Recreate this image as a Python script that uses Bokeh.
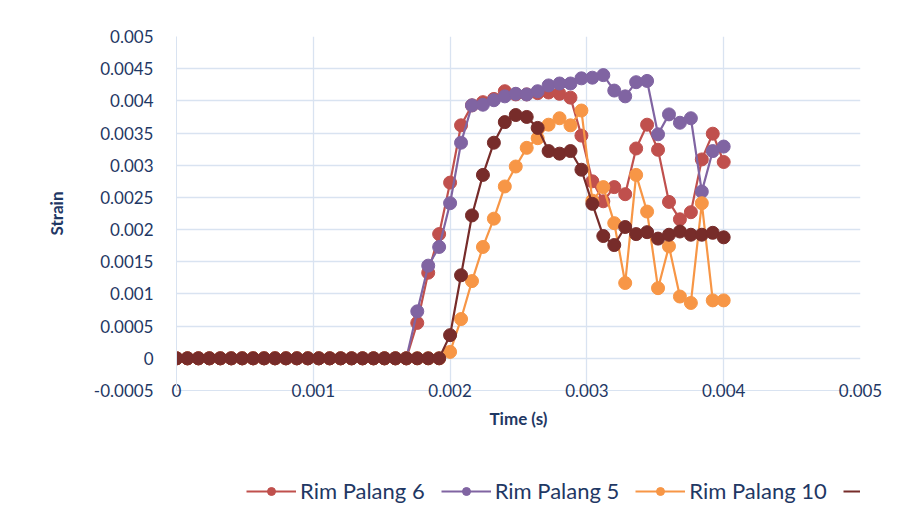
from bokeh.plotting import figure
from bokeh.models import Legend, LegendItem, FixedTicker
from bokeh.layouts import column
from bokeh.embed import file_html
from bokeh.resources import INLINE

# time step index 0..50, step 0.00008 s
n_points = 51
time_step = 0.00008
time_s = [round(i * time_step, 6) for i in range(n_points)]

rim_palang_6 = [0.0] * 22 + [
    0.00055, 0.00133, 0.00193, 0.00273, 0.00362, 0.00393, 0.00398, 0.00403,
    0.00415, 0.00410, 0.00410, 0.00412, 0.00413, 0.00411, 0.00405, 0.00346,
    0.00275, 0.00244, 0.00266, 0.00255, 0.00326, 0.00363, 0.00324, 0.00243,
    0.00216, 0.00227, 0.00309, 0.00349, 0.00305]

rim_palang_5 = [0.0] * 22 + [
    0.00073, 0.00144, 0.00173, 0.00241, 0.00335, 0.00393, 0.00394, 0.00401,
    0.00407, 0.00411, 0.00410, 0.00415, 0.00424, 0.00427, 0.00427, 0.00435,
    0.00436, 0.00440, 0.00416, 0.00407, 0.00429, 0.00431, 0.00348, 0.00379,
    0.00366, 0.00373, 0.00259, 0.00322, 0.00329]

rim_palang_10 = [0.0] * 25 + [
    0.00010, 0.00061, 0.00120, 0.00173, 0.00217, 0.00267, 0.00298, 0.00327,
    0.00342, 0.00363, 0.00373, 0.00362, 0.00385, 0.00245, 0.00266, 0.00210,
    0.00117, 0.00285, 0.00228, 0.00109, 0.00174, 0.00096, 0.00086, 0.00241,
    0.00090, 0.00090]

rim_palang_12 = [0.0] * 25 + [
    0.00036, 0.00129, 0.00222, 0.00285, 0.00335, 0.00367, 0.00378, 0.00375,
    0.00358, 0.00322, 0.00318, 0.00322, 0.00293, 0.00240, 0.00190, 0.00176,
    0.00204, 0.00193, 0.00196, 0.00186, 0.00192, 0.00197, 0.00192, 0.00192,
    0.00195, 0.00188]

series_names = ["Rim Palang 6", "Rim Palang 5", "Rim Palang 10", "Rim Palang 12"]
series_values = [rim_palang_6, rim_palang_5, rim_palang_10, rim_palang_12]
series_colors = ["#C0504D", "#8064A2", "#F79646", "#772C2A"]

x_ticks = [0, 0.001, 0.002, 0.003, 0.004, 0.005]
x_tick_labels = ["0", "0.001", "0.002", "0.003", "0.004", "0.005"]
y_ticks = [-0.0005, 0, 0.0005, 0.001, 0.0015, 0.002, 0.0025, 0.003,
           0.0035, 0.004, 0.0045, 0.005]
y_tick_labels = ["-0.0005", "0", "0.0005", "0.001", "0.0015", "0.002", "0.0025",
                 "0.003", "0.0035", "0.004", "0.0045", "0.005"]

FONT = "Lato"
TXT = "#1F3864"
GRID = "#D9E3F1"

main = figure(width=893, height=440, output_backend="svg", toolbar_location=None,
              x_range=(0, 0.005), y_range=(-0.0005, 0.005),
              min_border_left=176, min_border_right=33, min_border_top=36,
              min_border_bottom=50)
main.outline_line_color = None

main.xaxis.ticker = FixedTicker(ticks=x_ticks)
main.xaxis.major_label_overrides = dict(zip(x_ticks, x_tick_labels))
main.yaxis.ticker = FixedTicker(ticks=y_ticks)
main.yaxis.major_label_overrides = dict(zip(y_ticks, y_tick_labels))

for ax in (main.xaxis, main.yaxis):
    ax.axis_line_color = GRID
    ax.major_tick_line_color = None
    ax.minor_tick_line_color = None
    ax.major_label_text_font = FONT
    ax.major_label_text_font_size = "17px"
    ax.major_label_text_color = TXT
    ax.axis_label_text_font = FONT
    ax.axis_label_text_font_style = "bold"
    ax.axis_label_text_font_size = "17px"
    ax.axis_label_text_color = TXT

main.xaxis.axis_label = "Time (s)"
main.yaxis.axis_label = "Strain"
main.xaxis.major_label_standoff = -13
main.xaxis.axis_label_standoff = 8
main.yaxis.major_label_standoff = 17
main.yaxis.axis_label_standoff = 24

main.xgrid.ticker = FixedTicker(ticks=x_ticks)
main.ygrid.ticker = FixedTicker(ticks=y_ticks)
main.xgrid.grid_line_color = GRID
main.ygrid.grid_line_color = GRID
main.xgrid.grid_line_width = 1.3
main.ygrid.grid_line_width = 1.3

for vals, col in zip(series_values, series_colors):
    main.line(time_s, vals, line_color=col, line_width=2.2)
    main.scatter(time_s, vals, size=13, fill_color=col, line_color=col)

# legend strip below the chart (its series lie outside its own visible range)
leg = figure(width=893, height=71, output_backend="svg", toolbar_location=None,
             x_range=(10, 11), y_range=(10, 11), x_axis_type=None, y_axis_type=None,
             min_border=0)
leg.outline_line_color = None
leg.grid.visible = False

items = []
for name, vals, col in zip(series_names, series_values, series_colors):
    ln = leg.line(time_s, vals, line_color=col, line_width=2.2)
    sc = leg.scatter(time_s, vals, size=13, fill_color=col, line_color=col)
    items.append(LegendItem(label=name, renderers=[ln, sc]))

legend = Legend(items=items, orientation="horizontal", location=(70, 7),
                label_text_font=FONT, label_text_font_size="22px",
                label_text_color=TXT, glyph_width=50, glyph_height=20,
                spacing=16, label_standoff=4, border_line_color=None,
                background_fill_alpha=0, margin=0, padding=0)
leg.add_layout(legend, "center")

p = column(main, leg, spacing=0)

open("out.html", "w").write(file_html(p, INLINE))
